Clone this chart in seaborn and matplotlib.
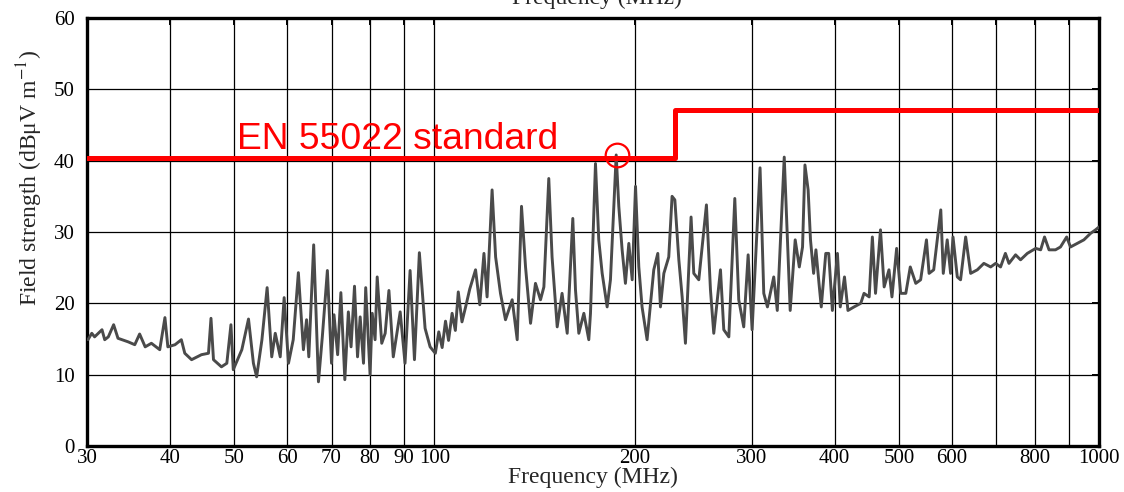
import matplotlib
matplotlib.use("Agg")
import matplotlib.pyplot as plt
import seaborn as sns
import pandas as pd
from matplotlib.ticker import NullLocator

freq_mhz = [30.1, 30.5, 30.8, 31.6, 31.9, 32.3, 32.9, 33.4, 34.6, 35.4, 36.0, 36.7, 37.5, 38.6, 39.3, 39.7,
            40.7, 41.6, 42.1, 43.1, 44.6, 45.7, 46.1, 46.5, 47.8, 48.7, 49.4, 49.8, 51.3, 52.5, 53.4, 54.0,
            55.0, 56.0, 56.9, 57.6, 58.6, 59.4, 60.3, 61.3, 62.4, 63.5, 64.2, 64.7, 65.8, 66.9, 67.8, 69.0,
            70.0, 70.6, 71.5, 72.3, 73.3, 74.2, 74.9, 75.8, 76.6, 77.3, 78.2, 78.8, 80.0, 80.6, 81.4, 82.0,
            83.3, 84.3, 85.4, 86.7, 88.8, 90.3, 91.9, 93.3, 94.9, 96.8, 98.5, 100.3,
            101.5, 102.7, 103.9, 105.0, 106.3, 107.5, 108.6, 110.0, 111.4, 113.0, 115.3, 117.0, 118.7, 120.0,
            122.1, 123.6, 125.7, 127.9, 130.9, 133.2,
            135.2, 137.1, 139.5, 141.9, 144.4, 146.1, 148.6, 150.3, 153.0, 155.6, 158.4, 161.5, 163.0, 164.9,
            167.8, 170.7, 171.7, 174.7, 176.7, 178.8, 181.9, 184.0, 187.7, 189.4, 191.6, 193.8, 196.1, 198.4,
            200.7, 203.0, 205.3, 208.9, 213.8, 216.8, 218.8, 221.4, 225.2, 227.8, 230.0, 233.2, 235.9, 238.6,
            243.3, 245.6, 249.9, 256.6, 260.2, 263.2, 269.4, 272.5, 277.3, 283.1, 287.0, 292.0, 296.5, 300.6,
            309.0, 313, 317, 324, 328, 336, 339, 343, 349, 354, 358, 361, 365, 368, 372, 375, 379, 382, 388,
            392, 397, 404, 408, 414, 419, 428, 438, 443, 451, 456, 461, 469, 475, 483, 488, 496, 503, 512,
            520, 530, 539, 550, 555, 564, 578, 583, 591, 598, 603, 612, 619, 630, 641, 656, 671, 687, 699,
            711, 723, 732, 749, 762, 780, 803, 817, 828, 841, 860, 875, 894, 906, 927, 949, 971, 988, 1000]
level_db = [14.9, 15.8, 15.3, 16.3, 14.9, 15.3, 17.0, 15.1, 14.6, 14.2, 15.7, 13.9, 14.4, 13.5, 18.0, 13.9,
            14.2, 14.9, 13.0, 12.1, 12.8, 13.0, 17.9, 12.1, 11.1, 11.6, 17.0, 10.7, 13.5, 17.8, 11.6, 9.7,
            14.9, 22.2, 12.5, 15.8, 12.5, 20.8, 11.6, 14.9, 24.3, 13.5, 17.7, 12.5, 28.2, 9.0, 15.3, 24.6,
            11.6, 18.4, 12.8, 21.5, 9.3, 18.8, 13.9, 22.4, 12.5, 18.1, 11.6, 22.2, 10.0, 18.6, 14.9, 23.7,
            14.4, 15.8, 21.8, 12.5, 18.8, 11.6, 24.6, 12.1, 27.1, 16.5, 13.9, 13.0,
            16.0, 13.8, 17.5, 14.8, 18.6, 16.2, 21.6, 17.4, 19.5, 22.0, 24.7, 19.8, 27.0, 20.9,
            35.9, 26.5, 21.4, 17.7, 20.5, 14.9,
            33.6, 25.1, 17.2, 22.8, 20.5, 22.3, 37.5, 26.5, 16.7, 21.4, 15.8, 31.9, 21.9, 15.8,
            18.6, 14.9, 18.6, 39.6, 28.9, 24.2, 19.5, 23.3, 40.8, 33.6, 27.5, 22.8, 28.4, 23.3,
            36.4, 25.1, 19.5, 14.9, 24.7, 27.0, 19.5, 24.2, 26.5, 35.0, 34.5, 26.1, 20.9, 14.4,
            32.1, 24.2, 23.3, 33.8, 21.9, 15.8, 24.7, 16.3, 15.3, 34.7, 20.5, 16.7, 26.8, 16.3,
            39.0, 21.4, 19.5, 23.7, 19.0, 40.5, 31.2, 19.0, 28.9, 25.1, 27.9, 39.4, 35.9, 28.9, 24.2, 27.5, 22.8, 19.5, 27.0,
            27.0, 19.0, 27.0, 19.5, 23.7, 19.0, 19.5, 20.0, 21.4, 20.9, 29.3, 21.4, 30.3, 22.3, 24.7, 20.9, 27.7, 21.4, 21.4,
            25.1, 22.8, 23.3, 28.9, 24.2, 24.7, 33.1, 24.2, 28.9, 24.2, 29.3, 23.7, 23.3, 29.3, 24.2, 24.7, 25.6, 25.1, 25.6,
            25.1, 27.0, 25.6, 26.8, 26.1, 27.0, 27.7, 27.5, 29.3, 27.5, 27.5, 27.9, 29.3, 27.9, 28.4, 28.9, 29.8, 30.3, 30.7]

# EN 55022 limit line
limit_freq = [30, 230, 1000]
limit_level = [40.4, 47.1, 47.1]

# highlighted peak
peak_freq = [188]
peak_level = [40.8]

grid_freqs = [30, 40, 50, 60, 70, 80, 90, 100, 200, 300, 400, 500, 600, 700, 800, 900, 1000]
grid_labels = ["30", "40", "50", "60", "70", "80", "90", "100", "200", "300", "400", "500", "600", "",
               "800", "", "1000"]
y_ticks = [0, 10, 20, 30, 40, 50, 60]

sns.set_theme(style="white")
plt.rcParams["font.family"] = ["Liberation Serif", "DejaVu Serif"]
plt.rcParams["mathtext.fontset"] = "stix"

fig = plt.figure(figsize=(11.24, 4.92), dpi=100)
ax = fig.add_axes([87 / 1124, 46 / 492, 1012 / 1124, 428 / 492])

df = pd.DataFrame({"freq": freq_mhz, "level": level_db})
sns.lineplot(data=df, x="freq", y="level", ax=ax, color="#4a4a4a", lw=2.1,
             estimator=None, sort=False, zorder=3)

ax.plot(limit_freq, limit_level, drawstyle="steps-post", color="#ff0000", lw=3.6, zorder=4)
ax.plot(peak_freq, peak_level, "o", ms=17, mfc="none", mec="#ff0000", mew=1.6, zorder=5)

ax.text(50.5, 41.6, "EN 55022 standard", color="#ff0000", fontsize=26.8,
        family=["Liberation Sans", "DejaVu Sans"], va="baseline", ha="left", zorder=6)

ax.set_xscale("log")
ax.set_xlim(30, 1000)
ax.set_ylim(0, 60)
ax.set_xticks(grid_freqs)
ax.set_xticklabels(grid_labels)
ax.xaxis.set_minor_locator(NullLocator())
ax.set_yticks(y_ticks)

ax.grid(True, which="major", color="black", lw=0.9)
ax.set_axisbelow(True)
for sp in ax.spines.values():
    sp.set_color("black")
    sp.set_linewidth(2.4)

ax.tick_params(axis="both", direction="in", length=5, width=1.4, colors="black",
               labelsize=15, top=True, right=True)
ax.tick_params(axis="y", pad=9)
ax.tick_params(axis="x", pad=2)

ax.set_xlabel("Frequency (MHz)", fontsize=17, labelpad=-1)
ax.set_ylabel("")
fig.text(30 / 1124, 1 - 178 / 492, "Field strength (dBμV m$^{-1}$)", rotation=90,
         ha="center", va="center", fontsize=17)
# clipped title remnant at the very top
fig.text(597 / 1124, 1 - 4 / 492, "Frequency (MHz)", ha="center", va="baseline", fontsize=17)

fig.savefig("out.png", dpi=100, facecolor="white")
